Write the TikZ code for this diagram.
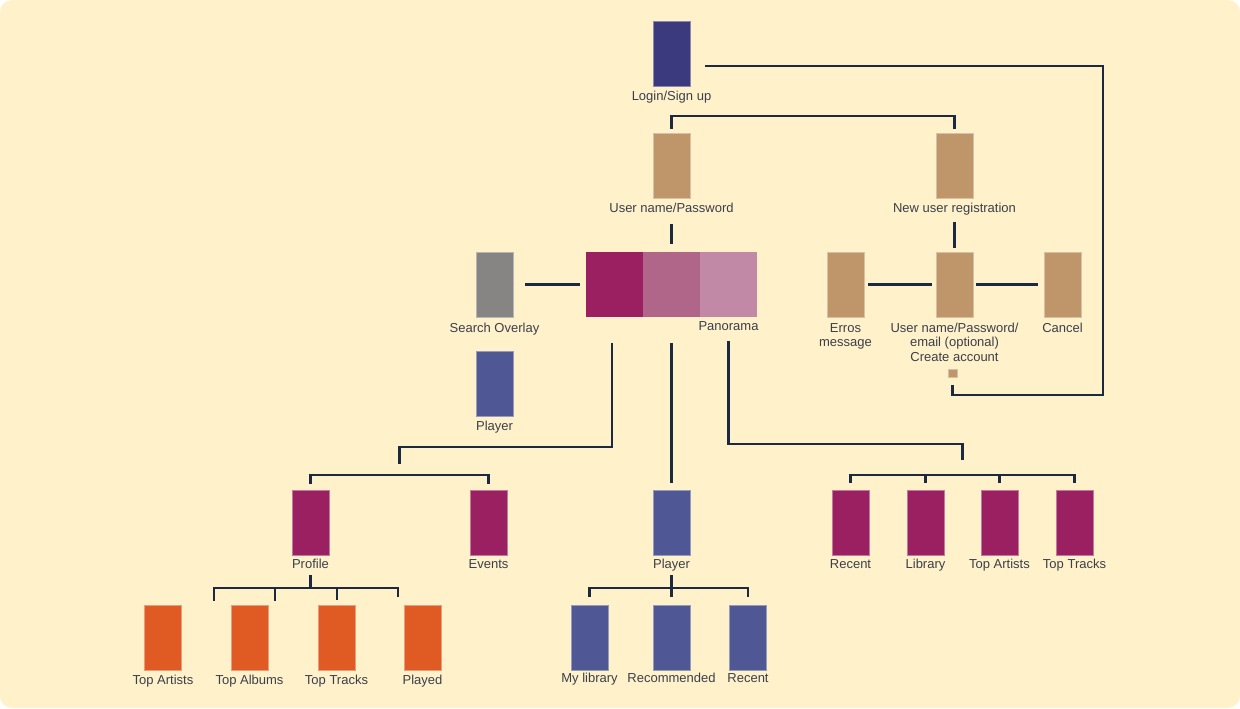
\documentclass[tikz,border=0pt]{standalone}
\usepackage{fontspec}
\setmainfont{Liberation Sans}
\definecolor{bgcol}{HTML}{FFF1CA}
\definecolor{linecol}{HTML}{1B2A41}
\definecolor{txtcol}{HTML}{3A3F4A}
\definecolor{loginc}{HTML}{3B3A7E}
\definecolor{tanc}{HTML}{BE966A}
\definecolor{grayc}{HTML}{878583}
\definecolor{magc}{HTML}{9A2062}
\definecolor{magb}{HTML}{B06688}
\definecolor{magl}{HTML}{C189A5}
\definecolor{bluec}{HTML}{4F5794}
\definecolor{orangec}{HTML}{E05A24}
\begin{document}
\begin{tikzpicture}[x=0.02cm, y=-0.02cm,
  box/.style={rectangle, inner sep=0pt, minimum width=.74cm, minimum height=1.3cm, fill=#1, draw=#1!60!white, line width=.3pt},
  lbl/.style={font=\fontsize{7.4}{8.2}\selectfont, text=txtcol, inner sep=0pt, align=center, anchor=base, yshift=-.28cm},
  link/.style={draw=linecol, line width=1.2pt}]
\useasboundingbox (0,0) rectangle (1240,708);
\fill[bgcol, rounded corners=.24cm] (0,0) rectangle (1240,708);

\node[box=loginc, label={[lbl]below:Login/Sign up}] (login) at (671.5,53.5){};
\node[box=tanc, label={[lbl]below:User name/Password}] (upw) at (671.5,165.5){};
\node[box=tanc, label={[lbl]below:New user registration}] (newreg) at (954.5,165.5){};

\node[box=grayc, label={[lbl, yshift=-.02cm]below:Search Overlay}] (search) at (494.5,284.5){};
\node[box=magc, minimum width=1.14cm, draw=none] (pano0) at (614.5,284.5){};
\node[box=magb, minimum width=1.14cm, draw=none] (pano1) at (671.5,284.5){};
\node[box=magl, minimum width=1.14cm, draw=none, label={[lbl, yshift=.02cm]below:Panorama}] (pano2) at (728.5,284.5){};
\node[box=tanc, label={[lbl, yshift=-.31cm]below:{Erros\\message}}] (erros) at (845.5,284.5){};
\node[box=tanc, label={[lbl, yshift=-.6cm]below:{User name/Password/\\email (optional)\\Create account}}] (creds) at (954.5,284.5){};
\node[box=tanc, label={[lbl, yshift=-.02cm]below:Cancel}] (cancel) at (1062.5,284.5){};
\node[box=tanc, minimum width=.17cm, minimum height=.17cm] (regsq) at (952.5,373.5){};
\node[box=bluec, label={[lbl]below:Player}] (plsm) at (494.5,383.5){};

\node[box=magc, label={[lbl, yshift=.02cm]below:Profile}] (profile) at (310.5,522.5){};
\node[box=magc, label={[lbl, yshift=.02cm]below:Events}] (events) at (488.5,522.5){};
\node[box=bluec, label={[lbl, yshift=.02cm]below:Player}] (player) at (671.5,522.5){};
\node[box=magc, label={[lbl, yshift=.02cm]below:Recent}] (precent) at (850.5,522.5){};
\node[box=magc, label={[lbl, yshift=.02cm]below:Library}] (plib) at (925.5,522.5){};
\node[box=magc, label={[lbl, yshift=.02cm]below:Top Artists}] (partists) at (999.5,522.5){};
\node[box=magc, label={[lbl, yshift=.02cm]below:Top Tracks}] (ptracks) at (1074.5,522.5){};

\node[box=orangec, label={[lbl]below:Top Artists}] (uartists) at (163,637.5){};
\node[box=orangec, label={[lbl]below:Top Albums}] (ualbums) at (249.5,637.5){};
\node[box=orangec, label={[lbl]below:Top Tracks}] (utracks) at (336.5,637.5){};
\node[box=orangec, label={[lbl]below:Played}] (uplayed) at (422.5,637.5){};
\node[box=bluec, label={[lbl, yshift=.04cm]below:My library}] (mylib) at (589.5,637.5){};
\node[box=bluec, label={[lbl, yshift=.04cm]below:Recommended}] (recom) at (671.5,637.5){};
\node[box=bluec, label={[lbl, yshift=.04cm]below:Recent}] (lrecent) at (748,637.5){};

\coordinate (loopA) at (705,66);
\coordinate (loopB) at (1103,395);
\coordinate (brL) at (399.5,490);
\coordinate (brR) at (962.5,490);
\coordinate (pb0) at (214,601);
\coordinate (pb1) at (275,601);
\coordinate (pb2) at (337,600);
\coordinate (pb3) at (398,597);

\draw[link] (loopA) -| (loopB) -| ([yshift=-.14cm]regsq.south);
\draw[link] ([yshift=.08cm]upw.north) -- ++(0,-13) -| ([yshift=.08cm]newreg.north);
\draw[link, shorten <=.52cm, shorten >=.16cm] (upw) -- (pano1);
\draw[link, shorten <=.48cm, shorten >=.08cm] (newreg) -- (creds);
\draw[link, shorten <=.24cm, shorten >=.12cm] (search) -- (pano0);
\draw[link, shorten <=.08cm, shorten >=.08cm] (erros) -- (creds);
\draw[link, shorten <=.06cm, shorten >=.12cm] (creds) -- (cancel);

\draw[link] ([shift={(-.05cm,-.52cm)}]pano0.south) |- ([yshift=.86cm]brL) -- ([yshift=.52cm]brL);
\draw[link, shorten <=.52cm, shorten >=.14cm] (pano1) -- (player);
\draw[link] ([yshift=-.48cm]pano2.south) |- ([yshift=.92cm]brR) -- ([yshift=.6cm]brR);

\draw[link] ([yshift=.12cm]profile.north) -- ++(0,-9) -| ([yshift=.12cm]events.north);
\draw[link] ([yshift=.14cm]precent.north) -- ++(0,-8) -| ([yshift=.14cm]ptracks.north);
\foreach \n in {plib,partists}
  \draw[link] ([yshift=.14cm]\n.north) -- ++(0,-8);

\draw[link, shorten <=.4cm] (profile.south) -- ++(0,33);
\draw[link] (pb0) |- (pb3 |- 0,588) -- (pb3);
\draw[link] (pb1) -- (pb1 |- 0,588);
\draw[link] (pb2) -- (pb2 |- 0,588);

\draw[link, shorten <=.4cm, shorten >=.16cm] (player) -- (recom);
\draw[link] ([yshift=.16cm]mylib.north) -- ++(0,-9) -| ([yshift=.16cm]lrecent.north);
\end{tikzpicture}
\end{document}
